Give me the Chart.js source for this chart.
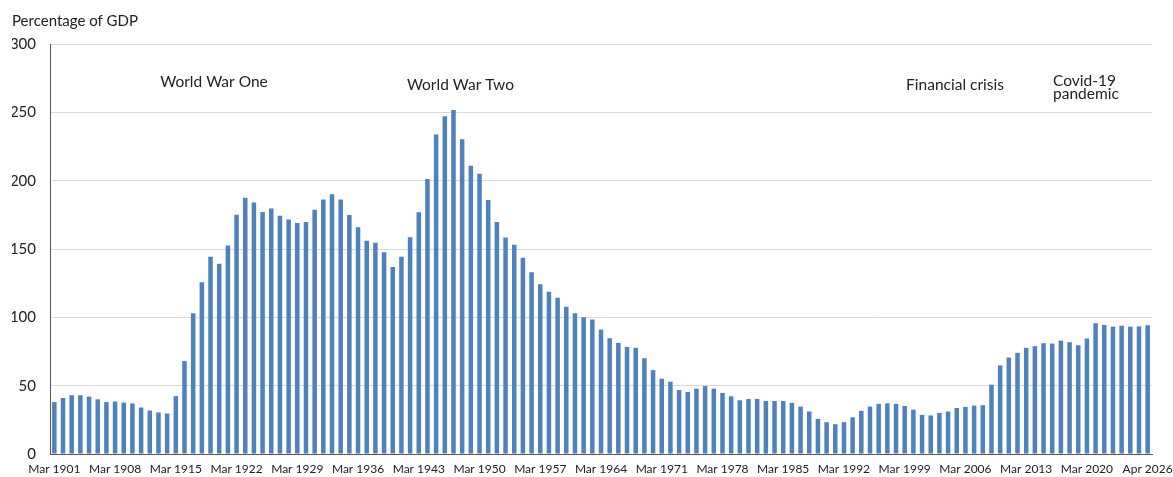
<!DOCTYPE html>
<html>
<head>
<meta charset="utf-8">
<script src="https://cdn.jsdelivr.net/npm/chart.js@4/dist/chart.umd.min.js"></script>
<style>
html,body{margin:0;padding:0;background:#fff;}
#wrap{width:1173px;height:477px;}
</style>
</head>
<body>
<div id="wrap"><canvas id="c"></canvas></div>
<script>
// Categories: Mar 1901 ... Mar 2026, Apr 2026
const years = [];
for (let y = 1901; y <= 2026; y++) years.push('Mar ' + y);
const categories = years.concat(['Apr 2026']);

const debtPctGDP = [
  38, 41, 43, 43, 42, 40, 38, 38.4, 37.6, 37, 34, 31.8, 30.4, 29.6, 42.3, 68, 103, 125.6, 144.3, 139.2,
  152.5, 175, 187.5, 184, 177, 179.7, 174.4, 171.5, 169.1, 169.8, 178.8, 186.3, 190, 186.3, 174.9, 165.9,
  156, 154.5, 147.7, 136.8, 144.3, 158.6, 176.9, 201.2, 233.7, 247.1, 251.7, 230.3, 210.9, 205.1,
  185.9, 169.8, 158.4, 153.1, 143.6, 132.9, 124.2, 118.8, 114.4, 107.7, 102.9, 100, 98.5, 91, 84.7,
  81.3, 78.4, 77.7, 70.1, 61.4, 55.1, 52.9, 46.8, 45.4, 47.8, 49.8, 47.8, 44.7, 42.2, 39.3, 40.3,
  40.3, 38.8, 38.8, 38.8, 37.4, 34.7, 31.1, 25.7, 23.3, 21.8, 23.3, 26.9, 31.6, 34.7, 36.7, 37.1,
  36.7, 35.2, 32.5, 28.6, 28.2, 30.1, 31.1, 33.7, 34.5, 35.4, 35.7, 50.7, 64.8, 70.6, 74, 77.7,
  78.9, 81.1, 80.8, 83, 81.8, 79.6, 84.5, 95.6, 94.4, 93.2, 93.9, 93.2, 93.4, 94.2
];

const tickIndexEvery = 7;
const yTicks = [0, 50, 100, 150, 200, 250, 300];

// Annotations: text lines anchored at a category index and a value
const annotations = [
  { lines: ['World War One'], idx: 18.4, val: 272, align: 'center', size: 15.5, lh: 0 },
  { lines: ['World War Two'], idx: 46.8, val: 270, align: 'center', size: 15.5, lh: 0 },
  { lines: ['Financial crisis'], idx: 103.8, val: 270, align: 'center', size: 15.5, lh: 0 },
  { lines: ['Covid-19', 'pandemic'], idx: 115.1, val: 273, align: 'left', size: 15.5, lh: 13 }
];

const FONT = 'Lato, "Open Sans", sans-serif';

const annoPlugin = {
  id: 'anno',
  afterDatasetsDraw(chart) {
    const ctx = chart.ctx;
    const xs = chart.scales.x, ys = chart.scales.y;
    ctx.save();
    ctx.fillStyle = '#222';
    ctx.textBaseline = 'middle';
    annotations.forEach(a => {
      const x = xs.getPixelForValue(a.idx);
      const y = ys.getPixelForValue(a.val);
      ctx.font = a.size + 'px ' + FONT;
      ctx.textAlign = a.align;
      a.lines.forEach((t, i) => ctx.fillText(t, x, y + i * a.lh));
    });
    ctx.restore();
  }
};

new Chart(document.getElementById('c'), {
  type: 'bar',
  data: {
    labels: categories,
    datasets: [{
      data: debtPctGDP,
      backgroundColor: '#4f81bd',
      barPercentage: 0.52,
      categoryPercentage: 1.0
    }]
  },
  options: {
    responsive: true,
    maintainAspectRatio: false,
    animation: false,
    layout: { padding: { left: 12, right: 21, top: 12, bottom: 0 } },
    plugins: {
      legend: { display: false },
      tooltip: { enabled: false },
      title: {
        display: true,
        text: 'Percentage of GDP',
        align: 'start',
        color: '#222',
        font: { family: FONT, size: 15, weight: 'normal' },
        padding: { top: 0, bottom: 14 }
      }
    },
    scales: {
      x: {
        offset: true,
        afterFit(scale) { scale.height = 21; scale.paddingRight = 0; scale.paddingLeft = 0; },
        grid: { display: false, drawTicks: false },
        border: { display: true, color: '#555', width: 1 },
        ticks: {
          autoSkip: false,
          maxRotation: 0,
          minRotation: 0,
          padding: 8,
          color: '#222',
          font: { family: FONT, size: 12 },
          callback: function(v, i) { return i % tickIndexEvery === 0 ? categories[i] : ''; }
        }
      },
      y: {
        min: 0,
        max: 300,
        afterBuildTicks(scale) { scale.ticks = yTicks.map(v => ({ value: v })); },
        afterFit(scale) { scale.width = 38; },
        grid: { color: '#d9d9d9', drawTicks: false, lineWidth: 1 },
        border: { display: true, color: '#555', width: 1 },
        ticks: {
          padding: 14,
          color: '#222',
          font: { family: FONT, size: 15 }
        }
      }
    }
  },
  plugins: [annoPlugin]
});
</script>
</body>
</html>
